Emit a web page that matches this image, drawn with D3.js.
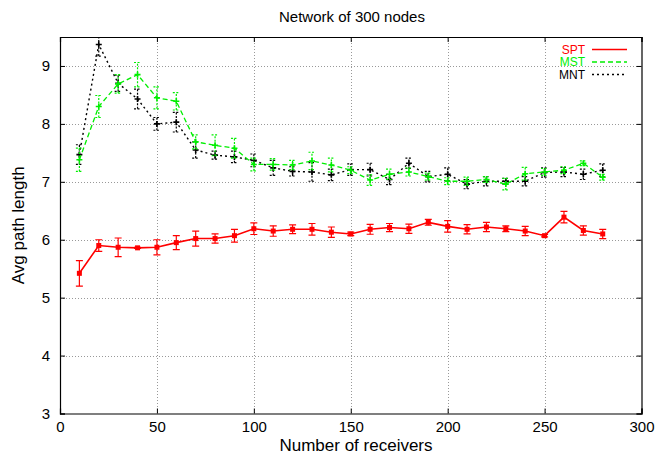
<!DOCTYPE html>
<html>
<head>
<meta charset="utf-8">
<script src="https://d3js.org/d3.v7.min.js"></script>
<style>
body{margin:0;background:#fff;}
text{font-family:"Liberation Sans",Arial,sans-serif;}
</style>
</head>
<body>
<div id="chart"></div>
<script>
// number of receivers
var receivers = [10,20,30,40,50,60,70,80,90,100,110,120,130,140,150,160,170,180,190,200,210,220,230,240,250,260,270,280];

// SPT
var sptMean = [5.42,5.90,5.87,5.86,5.87,5.95,6.02,6.02,6.07,6.19,6.15,6.18,6.18,6.13,6.10,6.18,6.21,6.19,6.30,6.23,6.18,6.22,6.19,6.15,6.07,6.39,6.16,6.10];
var sptErr  = [0.22,0.10,0.16,0.01,0.13,0.12,0.13,0.08,0.11,0.10,0.09,0.075,0.10,0.09,0.03,0.085,0.07,0.08,0.05,0.10,0.08,0.08,0.05,0.08,0.02,0.10,0.08,0.08];

// MST
var mstMean = [7.38,8.30,8.69,8.85,8.45,8.39,7.69,7.63,7.58,7.30,7.30,7.29,7.36,7.29,7.20,7.03,7.13,7.17,7.09,7.01,7.01,7.04,6.96,7.14,7.17,7.20,7.32,7.08];
var mstErr  = [0.20,0.19,0.16,0.21,0.19,0.15,0.12,0.18,0.17,0.11,0.10,0.08,0.15,0.12,0.06,0.09,0.09,0.07,0.06,0.06,0.07,0.05,0.10,0.11,0.06,0.06,0.04,0.05];

// MNT
var mntMean = [7.47,9.37,8.70,8.43,8.00,8.03,7.55,7.46,7.43,7.37,7.24,7.18,7.17,7.12,7.21,7.21,7.04,7.32,7.09,7.13,6.96,7.01,7.01,7.01,7.16,7.17,7.13,7.20];
var mntErr  = [0.17,0.20,0.14,0.17,0.11,0.17,0.14,0.07,0.10,0.11,0.13,0.08,0.16,0.10,0.10,0.11,0.09,0.09,0.09,0.11,0.08,0.08,0.05,0.08,0.08,0.08,0.09,0.11];

var xTicks = [0,50,100,150,200,250,300];
var yTicks = [3,4,5,6,7,8,9];
var seriesNames = ["SPT","MST","MNT"];
var seriesColors = ["#ff0000","#00ee00","#000000"];

var W = 664, H = 454;
var margin = {top:37, right:22.5, bottom:40.5, left:60};
var width = W - margin.left - margin.right,
	height = H - margin.top - margin.bottom;

var svg = d3.select("#chart").append("svg")
	.attr("width", W)
	.attr("height", H);

var g = svg.append("g")
	.attr("transform", "translate(" + margin.left + "," + margin.top + ")");

var x = d3.scaleLinear().domain([0,300]).range([0,width]);
var y = d3.scaleLinear().domain([3,9.5]).range([height,0]);

svg.append("defs").append("clipPath").attr("id","clip")
	.append("rect").attr("width", width).attr("height", height);

// grid
g.selectAll(".gridX").data(xTicks.slice(1,-1)).enter().append("line")
	.attr("x1", function(d){ return Math.round(x(d))+0.5; })
	.attr("x2", function(d){ return Math.round(x(d))+0.5; })
	.attr("y1", 0).attr("y2", height)
	.attr("stroke", "#999").attr("stroke-width", 1)
	.attr("stroke-dasharray", "1,2");
g.selectAll(".gridY").data(yTicks.slice(1)).enter().append("line")
	.attr("x1", 0).attr("x2", width)
	.attr("y1", function(d){ return Math.round(y(d))+0.5; })
	.attr("y2", function(d){ return Math.round(y(d))+0.5; })
	.attr("stroke", "#999").attr("stroke-width", 1)
	.attr("stroke-dasharray", "1,2");

// axes with inward ticks (mirrored)
var tickLen = 5;
g.append("g").attr("transform", "translate(0," + height + ")")
	.call(d3.axisBottom(x).tickValues(xTicks).tickSize(-tickLen).tickPadding(8));
g.append("g")
	.call(d3.axisTop(x).tickValues(xTicks).tickSize(-tickLen).tickFormat(""));
g.append("g")
	.call(d3.axisLeft(y).tickValues(yTicks).tickSize(-tickLen).tickPadding(10).tickFormat(d3.format("d")));
g.append("g").attr("transform", "translate(" + width + ",0)")
	.call(d3.axisRight(y).tickValues(yTicks).tickSize(-tickLen).tickFormat(""));
g.selectAll(".domain").attr("stroke", "#000").attr("stroke-width", 1.2);
g.selectAll(".tick line").attr("stroke", "#000");
g.selectAll(".tick text").attr("font-size", "15px").style("fill", "#000")
	.attr("font-family", "Liberation Sans, Arial, sans-serif");

// titles
svg.append("text").attr("x", 352).attr("y", 22)
	.attr("text-anchor", "middle").attr("font-size", "15px").text("Network of 300 nodes");
svg.append("text").attr("x", 356).attr("y", 451)
	.attr("text-anchor", "middle").attr("font-size", "17px").text("Number of receivers");
svg.append("text")
	.attr("transform", "translate(24," + (margin.top + height/2) + ") rotate(-90)")
	.attr("text-anchor", "middle").attr("font-size", "17px").text("Avg path length");

// series
var series = [
	{name:"SPT", mean:sptMean, err:sptErr, color:seriesColors[0], dash:null, width:1.6, mark:"square"},
	{name:"MST", mean:mstMean, err:mstErr, color:seriesColors[1], dash:"5,3", width:1.3, mark:"plus"},
	{name:"MNT", mean:mntMean, err:mntErr, color:seriesColors[2], dash:"2,3", width:1.4, mark:"plus"}
];

var line = d3.line()
	.x(function(d){ return x(d.x); })
	.y(function(d){ return y(d.v); });

var plot = g.append("g").attr("clip-path", "url(#clip)");

// draw back to front: MNT, MST, SPT
series.slice().reverse().forEach(function(s){
	var pts = receivers.map(function(r,i){ return {x:r, v:s.mean[i], e:s.err[i]}; });
	var sg = plot.append("g");
	sg.append("path").datum(pts)
		.attr("d", line)
		.attr("fill", "none")
		.attr("stroke", s.color)
		.attr("stroke-width", s.width)
		.attr("stroke-dasharray", s.dash);
	var cap = 3.5;
	var eb = sg.selectAll(".eb").data(pts).enter().append("g")
		.attr("stroke", s.color).attr("stroke-width", 1.2)
		.attr("stroke-dasharray", s.dash ? "2,1.5" : null);
	eb.append("line")
		.attr("x1", function(d){ return x(d.x); }).attr("x2", function(d){ return x(d.x); })
		.attr("y1", function(d){ return y(d.v - d.e); }).attr("y2", function(d){ return y(d.v + d.e); });
	eb.append("line")
		.attr("x1", function(d){ return x(d.x)-cap; }).attr("x2", function(d){ return x(d.x)+cap; })
		.attr("y1", function(d){ return y(d.v - d.e); }).attr("y2", function(d){ return y(d.v - d.e); });
	eb.append("line")
		.attr("x1", function(d){ return x(d.x)-cap; }).attr("x2", function(d){ return x(d.x)+cap; })
		.attr("y1", function(d){ return y(d.v + d.e); }).attr("y2", function(d){ return y(d.v + d.e); });
	if(s.mark === "square"){
		sg.selectAll(".pt").data(pts).enter().append("rect")
			.attr("x", function(d){ return x(d.x)-2.5; })
			.attr("y", function(d){ return y(d.v)-2.5; })
			.attr("width", 5).attr("height", 5)
			.attr("fill", s.color);
	}else{
		sg.selectAll(".pt").data(pts).enter().append("path")
			.attr("d", function(d){
				var cx = x(d.x), cy = y(d.v);
				return "M" + (cx-3) + "," + cy + "H" + (cx+3) + "M" + cx + "," + (cy-3) + "V" + (cy+3);
			})
			.attr("stroke", s.color).attr("stroke-width", 1.6);
	}
});

// legend
var legend = svg.append("g").attr("class", "legend");
series.forEach(function(s,i){
	var ly = 49.5 + i*12.5;
	legend.append("text")
		.attr("x", 585).attr("y", ly + 4)
		.attr("text-anchor", "end").attr("font-size", "12px")
		.style("fill", s.color).text(s.name);
	legend.append("line")
		.attr("x1", 592).attr("x2", 627)
		.attr("y1", ly).attr("y2", ly)
		.attr("stroke", s.color).attr("stroke-width", s.width)
		.attr("stroke-dasharray", s.dash);
});
</script>
</body>
</html>
